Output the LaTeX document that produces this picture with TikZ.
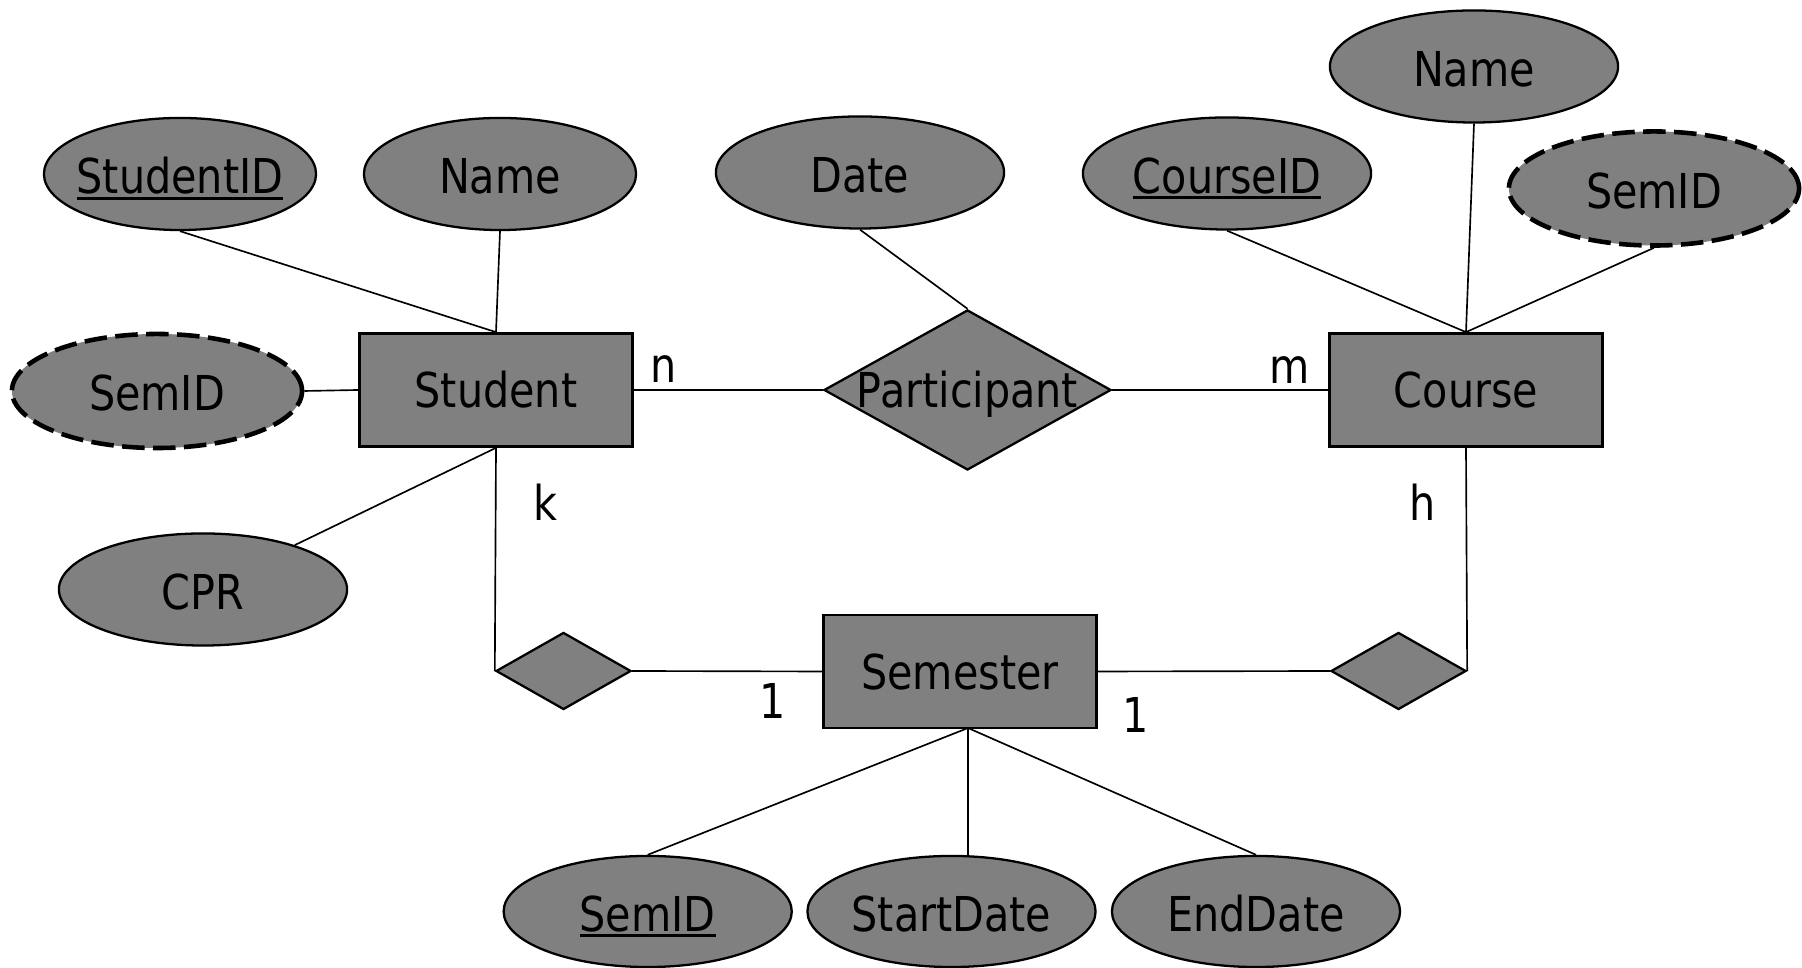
\documentclass[tikz,border=0pt]{standalone}
\usepackage{fontspec}
\setmainfont{DejaVu Sans}[FakeStretch=0.86]
\usetikzlibrary{shapes.geometric}

\definecolor{ergray}{HTML}{808080}

% key attribute: text with a rule beneath it
\newcommand\keyattr[1]{\setbox0\hbox{#1}\rlap{\rule[-1.7pt]{\wd0}{0.75pt}}\box0}

\begin{document}
\begin{tikzpicture}[
    x=0.01cm, y=-0.01cm,
    font=\fontsize{13.66pt}{16pt}\selectfont,
    attr/.style={ellipse, draw, line width=0.65pt, fill=ergray,
      minimum width=2.88cm, minimum height=1.12cm, inner sep=0pt},
    narrowattr/.style={attr, minimum width=2.72cm},
    derivedattr/.style={attr, line width=1.3pt, dash pattern=on 6.4pt off 2.4pt,
      minimum width=2.9cm, minimum height=1.14cm},
    entity/.style={rectangle, draw, line width=0.75pt, fill=ergray,
      minimum width=2.73cm, minimum height=1.13cm, inner sep=0pt,
      text height=10pt, text depth=0pt},
    relation/.style={diamond, draw, line width=0.65pt, fill=ergray, inner sep=0pt},
    attrtext/.style={inner sep=0pt, text height=10pt, text depth=0pt, yshift=-0.02cm},
    conn/.style={line width=0.47pt},
    card/.style={inner sep=0pt},
  ]
  \useasboundingbox (0,0) rectangle (1802,968);

  % Student and its attributes
  \node[entity] (student) at (496,390) {Student};
  \node[narrowattr, label={[attrtext]center:\keyattr{StudentID}}] (sid) at (180,174) {};
  \node[narrowattr, label={[attrtext]center:Name}] (sname) at (500,174) {};
  \node[derivedattr, label={[attrtext]center:SemID}] (ssem) at (157,391) {};
  \node[attr, label={[attrtext]center:CPR}] (cpr) at (203,589.5) {};

  % Participant relationship
  \node[relation, minimum width=2.87cm, minimum height=1.6cm,
        label={[inner sep=0pt, text height=10pt, text depth=0pt]center:Participant}]
        (part) at (967.5,390) {};
  \node[attr, label={[attrtext]center:Date}] (date) at (860,172.5) {};

  % Course and its attributes
  \node[entity] (course) at (1466,390) {Course};
  \node[attr, label={[attrtext]center:\keyattr{CourseID}}] (cid) at (1227,173.5) {};
  \node[attr, label={[attrtext]center:Name}] (cname) at (1474,66.5) {};
  \node[derivedattr, label={[attrtext]center:SemID}] (csem) at (1654,188.5) {};

  % Semester, its relationships and attributes
  \node[entity] (sem) at (960,671.5) {Semester};
  \node[relation, minimum width=1.35cm, minimum height=0.77cm] (ldia) at (563.5,671) {};
  \node[relation, minimum width=1.35cm, minimum height=0.77cm] (rdia) at (1398.5,671) {};
  \node[attr, minimum height=1.11cm, label={[attrtext]center:\keyattr{SemID}}] (semid) at (647.7,911.5) {};
  \node[attr, minimum height=1.11cm, label={[attrtext]center:StartDate}] (sd) at (951.5,911.5) {};
  \node[attr, minimum height=1.11cm, label={[attrtext]center:EndDate}] (ed) at (1256,911.5) {};
  \coordinate (semfoot) at (968,728);

  % connectors
  \draw[conn] (sid.south) -- (student.north);
  \draw[conn] (sname.south) -- (student.north);
  \draw[conn] (ssem.east) -- (student.west);
  \draw[conn] (cpr) -- (student.south);
  \draw[conn] (student.east) -- (part.west);
  \draw[conn] (part.east) -- (course.west);
  \draw[conn] (date.south) -- (part.north);
  \draw[conn] (cid.south) -- (course.north);
  \draw[conn] (cname.south) -- (course.north);
  \draw[conn] (csem.south) -- (course.north);
  \draw[conn] (student.south) -- (ldia.west);
  \draw[conn] (ldia.east) -- (sem.west);
  \draw[conn] (sem.east) -- (rdia.west);
  \draw[conn] (rdia.east) -- (course.south);
  \draw[conn] (semid.north) -- (semfoot);
  \draw[conn] (sd.north -| semfoot) -- (semfoot);
  \draw[conn] (ed.north) -- (semfoot);

  % cardinalities
  \node[card] (cn) at (664,369) {n};
  \node[card] (cm) at (1290,370) {m};
  \node[card] (ck) at (545,502) {k};
  \node[card] (ch) at (1423,502) {h};
  \node[card] (c1l) at (773,701) {1};
  \node[card] (c1r) at (1136,715) {1};
\end{tikzpicture}
\end{document}
